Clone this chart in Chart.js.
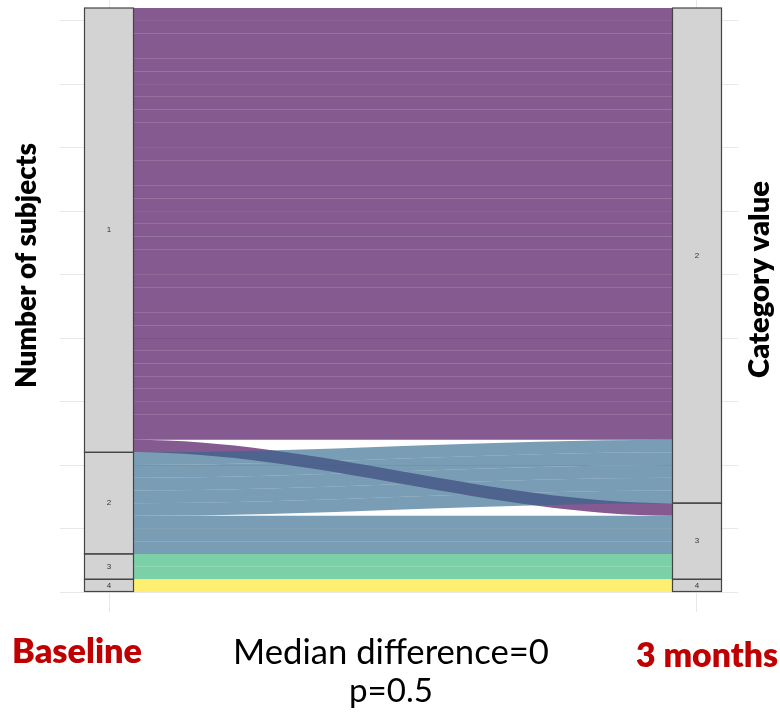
<!DOCTYPE html>
<html>
<head>
<meta charset="utf-8">
<title>Category transitions</title>
<script src="https://cdn.jsdelivr.net/npm/chart.js@4/dist/chart.umd.min.js"></script>
<style>
  html, body { margin: 0; padding: 0; background: #ffffff; }
  canvas { display: block; }
</style>
</head>
<body>
<canvas id="chart" width="780" height="715"></canvas>
<script>
// Time points (placed at x = 1 and x = 2) and category levels
const timepoints = ['Baseline', '3 months'];
const categories = ['1', '2', '3', '4'];

// Number of subjects in each category at each time point
const baselineCounts = [35, 8, 2, 1];
const month3Counts = [0, 39, 6, 1];

// Transitions between time points: from category -> to category, subjects
const flowFrom = ['1', '1', '2', '2', '3', '4'];
const flowTo = ['2', '3', '2', '3', '3', '4'];
const flowCount = [34, 1, 5, 3, 2, 1];

// Grid values on the subject axis
const yGridValues = [0, 5, 10, 15, 20, 25, 30, 35, 40, 45];

// Texts around the plot
const leftTitle = 'Number of subjects';
const rightTitle = 'Category value';
const noteLines = ['Median difference=0', 'p=0.5'];

// Viridis fill per baseline category (semi-transparent)
const categoryFill = [
  'rgba(68, 1, 84, 0.65)',
  'rgba(49, 104, 142, 0.65)',
  'rgba(53, 183, 121, 0.65)',
  'rgba(253, 231, 37, 0.65)'
];

const STRATUM_WIDTH = 1 / 12;
const total = baselineCounts.reduce((a, b) => a + b, 0);

// Stack strata with category 1 on top
function stackRanges(counts) {
  const ranges = [];
  let top = total;
  counts.forEach(c => { ranges.push([top - c, top]); top -= c; });
  return ranges;
}
const baseRanges = stackRanges(baselineCounts);
const m3Ranges = stackRanges(month3Counts);

const cmp = (a, b) => categories.indexOf(a) - categories.indexOf(b);

// One lode per subject, positioned inside its stratum at both time points
function buildLodes() {
  const leftCursor = baseRanges.map(r => r[1]);
  const rightCursor = m3Ranges.map(r => r[1]);
  const idx = flowCount.map((_, i) => i);
  const leftTop = {}, rightTop = {};
  idx.slice().sort((a, b) => cmp(flowFrom[a], flowFrom[b]) || cmp(flowTo[a], flowTo[b])).forEach(i => {
    const f = categories.indexOf(flowFrom[i]);
    leftTop[i] = leftCursor[f]; leftCursor[f] -= flowCount[i];
  });
  idx.slice().sort((a, b) => cmp(flowTo[a], flowTo[b]) || cmp(flowFrom[a], flowFrom[b])).forEach(i => {
    const t = categories.indexOf(flowTo[i]);
    rightTop[i] = rightCursor[t]; rightCursor[t] -= flowCount[i];
  });
  const lodes = [];
  idx.slice().sort((a, b) => cmp(flowFrom[a], flowFrom[b]) || cmp(flowTo[a], flowTo[b])).forEach(i => {
    for (let k = 0; k < flowCount[i]; k++) {
      lodes.push({
        color: categoryFill[categories.indexOf(flowFrom[i])],
        l1: leftTop[i] - k, l0: leftTop[i] - k - 1,
        r1: rightTop[i] - k, r0: rightTop[i] - k - 1
      });
    }
  });
  return lodes;
}
const lodes = buildLodes();

// Strata boxes as floating bars, one dataset per category
const strataDatasets = categories.map((cat, ci) => {
  const data = [];
  if (baselineCounts[ci] > 0) data.push({ x: 1, y: baseRanges[ci].slice() });
  if (month3Counts[ci] > 0) data.push({ x: 2, y: m3Ranges[ci].slice() });
  return {
    label: cat,
    data,
    grouped: false,
    backgroundColor: '#d3d3d3',
    borderWidth: 0,
    categoryPercentage: 1,
    barPercentage: STRATUM_WIDTH
  };
});

// Flows between strata, drawn beneath the boxes
const flowPlugin = {
  id: 'flows',
  beforeDatasetsDraw(chart) {
    const { ctx, scales: { x, y } } = chart;
    const xl = x.getPixelForValue(1 + STRATUM_WIDTH / 2);
    const xr = x.getPixelForValue(2 - STRATUM_WIDTH / 2);
    const c1 = xl + (xr - xl) / 3;
    const c2 = xl + 2 * (xr - xl) / 3;
    ctx.save();
    lodes.forEach(ld => {
      const yl1 = y.getPixelForValue(ld.l1), yl0 = y.getPixelForValue(ld.l0);
      const yr1 = y.getPixelForValue(ld.r1), yr0 = y.getPixelForValue(ld.r0);
      ctx.beginPath();
      ctx.moveTo(xl, yl1);
      ctx.bezierCurveTo(c1, yl1, c2, yr1, xr, yr1);
      ctx.lineTo(xr, yr0);
      ctx.bezierCurveTo(c2, yr0, c1, yl0, xl, yl0);
      ctx.closePath();
      ctx.fillStyle = ld.color;
      ctx.fill();
    });
    ctx.restore();
  }
};

// Outlines (centred on the box edges, so neighbours share one line) and labels
const stratumLabelPlugin = {
  id: 'stratumLabels',
  afterDatasetsDraw(chart) {
    const { ctx, scales: { x, y } } = chart;
    ctx.save();
    ctx.strokeStyle = '#444444';
    ctx.lineWidth = 1.2;
    chart.data.datasets.forEach((ds, di) => {
      chart.getDatasetMeta(di).data.forEach(bar => {
        const p = bar.getProps(['x', 'y', 'base', 'width'], true);
        const top = Math.min(p.y, p.base), h = Math.abs(p.base - p.y);
        ctx.strokeRect(p.x - p.width / 2, top, p.width, h);
      });
    });
    ctx.font = '8px "Liberation Sans", Arial, sans-serif';
    ctx.fillStyle = '#333333';
    ctx.textAlign = 'center';
    ctx.textBaseline = 'middle';
    chart.data.datasets.forEach(ds => {
      ds.data.forEach(pt => {
        const px = x.getPixelForValue(pt.x);
        const py = y.getPixelForValue((pt.y[0] + pt.y[1]) / 2);
        ctx.fillText(ds.label, px, py);
      });
    });
    ctx.restore();
  }
};

// Size a font so a text spans the given width
function fittedFont(ctx, text, weight, family, width) {
  ctx.font = weight + ' 100px ' + family;
  const w = ctx.measureText(text).width;
  return weight + ' ' + (100 * width / w).toFixed(2) + 'px ' + family;
}

const FAMILY = 'Lato, "Open Sans", sans-serif';

const textPlugin = {
  id: 'outerTexts',
  afterDraw(chart) {
    const ctx = chart.ctx;
    ctx.save();
    ctx.textAlign = 'center';
    ctx.textBaseline = 'alphabetic';

    // rotated axis titles, reading bottom to top
    ctx.fillStyle = '#000000';
    [[leftTitle, 36, 265.5, 245], [rightTitle, 769, 279.5, 197]].forEach(([t, bx, cy, w]) => {
      ctx.save();
      ctx.font = fittedFont(ctx, t, '800', FAMILY, w);
      ctx.translate(bx, cy);
      ctx.rotate(-Math.PI / 2);
      ctx.fillText(t, 0, 0);
      ctx.restore();
    });

    // time point names
    ctx.fillStyle = '#c00000';
    ctx.font = fittedFont(ctx, timepoints[0], '800', FAMILY, 130);
    ctx.fillText(timepoints[0], 77, 663);
    ctx.font = fittedFont(ctx, timepoints[1], '800', FAMILY, 142);
    ctx.fillText(timepoints[1], 707, 667);

    // test result
    ctx.fillStyle = '#000000';
    ctx.font = fittedFont(ctx, noteLines[0], 'normal', FAMILY, 316);
    ctx.fillText(noteLines[0], 391, 664);
    ctx.font = fittedFont(ctx, noteLines[1], 'normal', FAMILY, 84);
    ctx.fillText(noteLines[1], 391, 702);
    ctx.restore();
  }
};

const gridColor = '#e8e8e8';

new Chart(document.getElementById('chart'), {
  type: 'bar',
  data: { datasets: strataDatasets },
  options: {
    responsive: false,
    animation: false,
    devicePixelRatio: 1,
    layout: { padding: { left: 60, right: 42, top: 0, bottom: 103 } },
    plugins: { legend: { display: false }, tooltip: { enabled: false }, title: { display: false } },
    scales: {
      x: {
        type: 'linear',
        offset: false,
        min: 1 - 49 / 588,
        max: 2 + 41 / 588,
        afterBuildTicks: s => { s.ticks = [1, 2].map(v => ({ value: v })); },
        ticks: { display: false },
        grid: { color: gridColor, lineWidth: 1, drawTicks: false, offset: false },
        border: { display: false }
      },
      y: {
        type: 'linear',
        min: -20 / (584 / 46),
        max: 46 + 8 / (584 / 46),
        afterBuildTicks: s => { s.ticks = yGridValues.map(v => ({ value: v })); },
        ticks: { display: false },
        grid: { color: gridColor, lineWidth: 1, drawTicks: false },
        border: { display: false }
      }
    }
  },
  plugins: [flowPlugin, stratumLabelPlugin, textPlugin]
});
</script>
</body>
</html>
